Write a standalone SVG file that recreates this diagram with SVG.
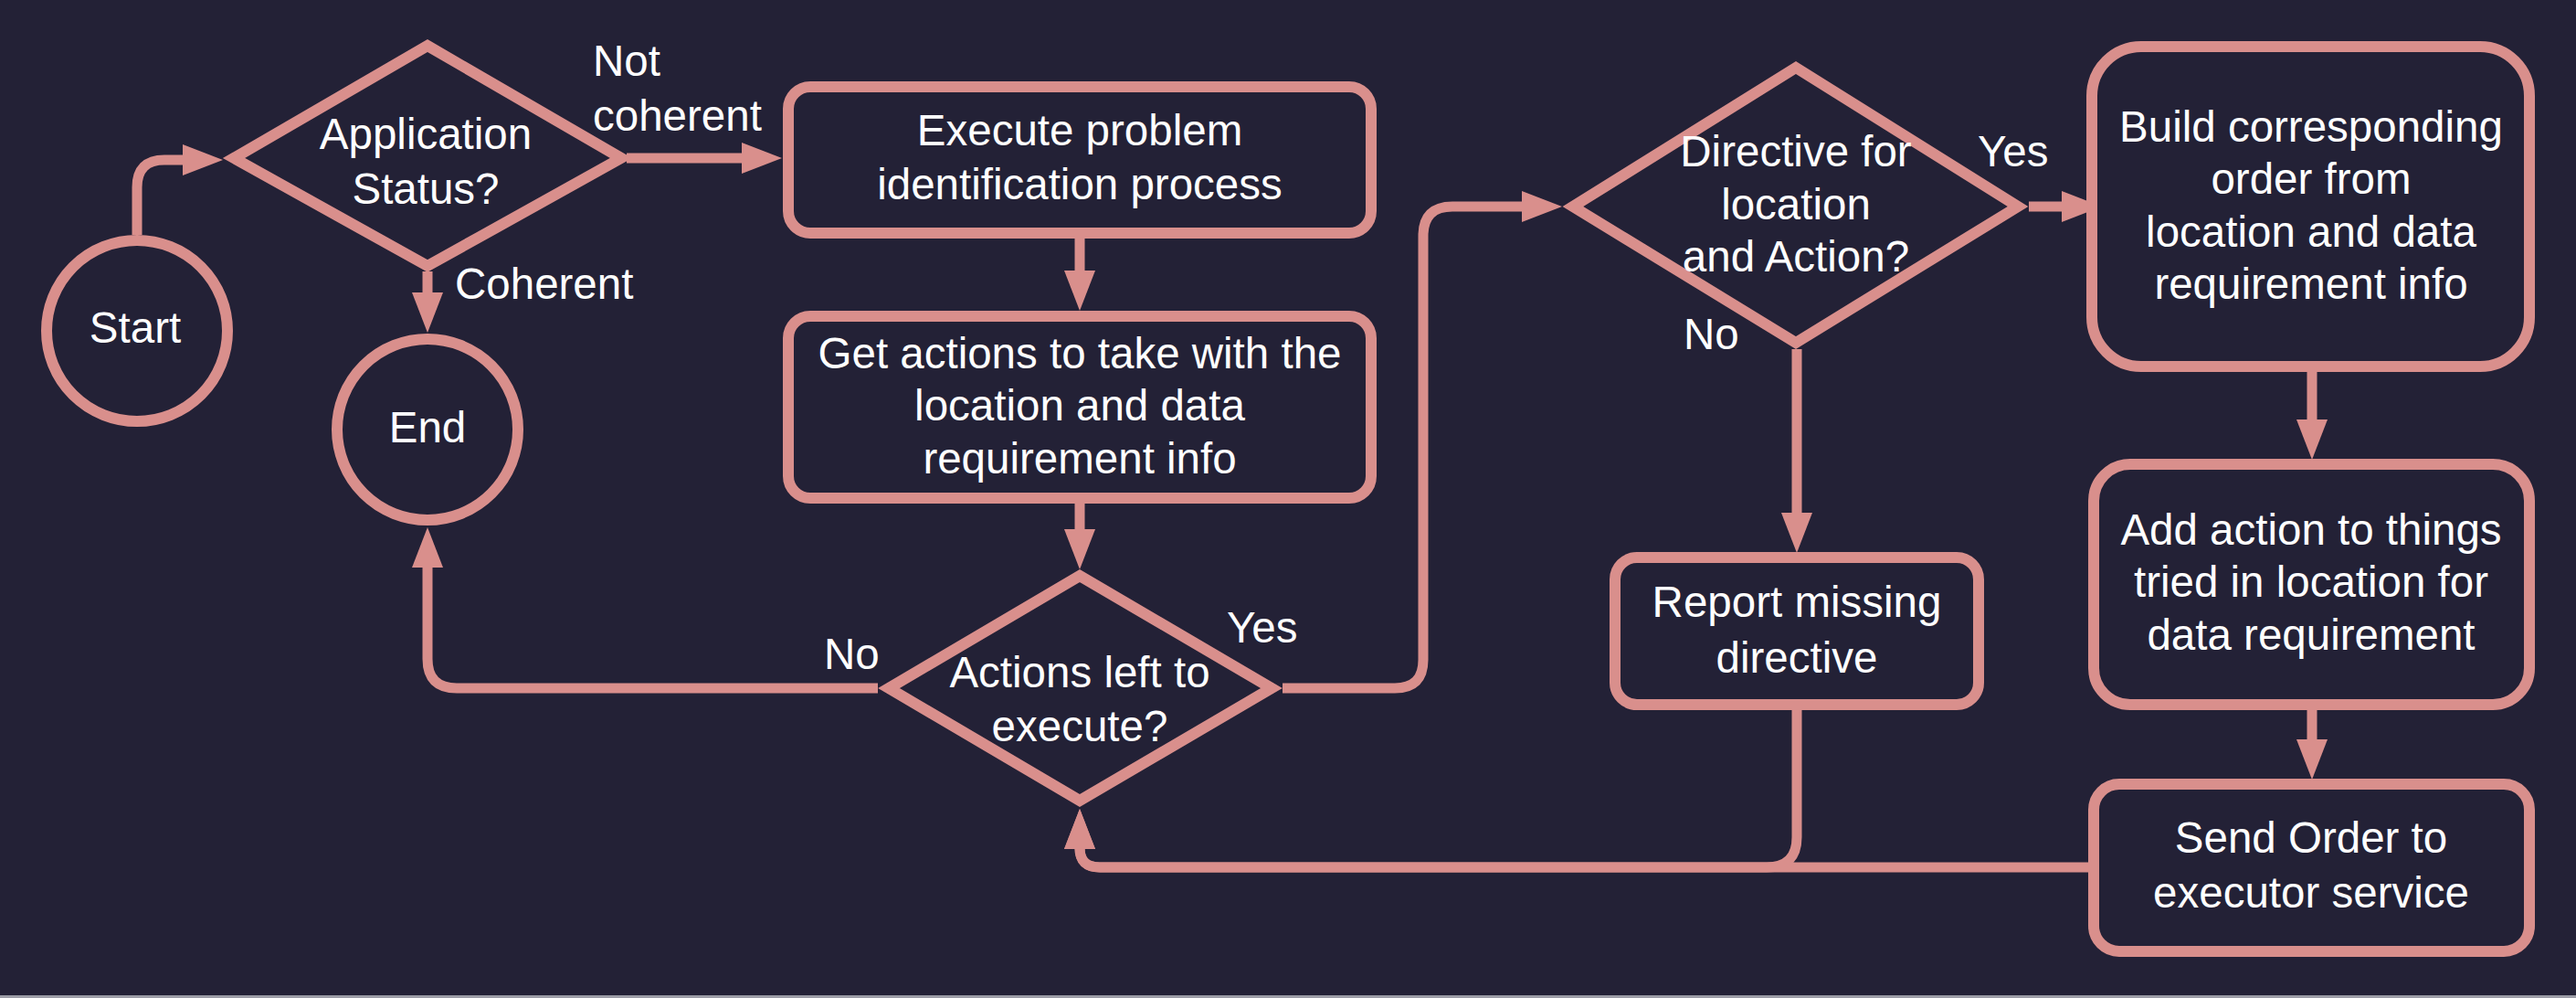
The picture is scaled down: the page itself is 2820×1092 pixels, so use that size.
<svg xmlns="http://www.w3.org/2000/svg" width="2820" height="1092" viewBox="0 0 2820 1092">
<defs>
<marker id="arr" markerUnits="userSpaceOnUse" viewBox="0 0 44 34" refX="1" refY="17" markerWidth="44" markerHeight="34" orient="auto">
<path d="M0,0 L44,17 L0,34 z" fill="#d98f8c"/>
</marker>
<style>
.node{fill:#232136;stroke:#d98f8c;stroke-width:12;stroke-linejoin:miter}
.edge{fill:none;stroke:#d98f8c;stroke-width:11}
text{font-family:"Liberation Sans",Arial,sans-serif;font-size:47.5px;fill:#ffffff}
.c{text-anchor:middle}
</style>
</defs>
<rect x="0" y="0" width="2820" height="1092" fill="#232136"/>
<rect x="0" y="1089" width="2820" height="3" fill="#9c9ca6"/>
<g id="connectors">
<path class="edge" d="M150,257 L150,205 Q150,175 180,175 L201,175" marker-end="url(#arr)"/>
<path class="edge" d="M686,173 L813,173" marker-end="url(#arr)"/>
<path class="edge" d="M468,297 L468,321" marker-end="url(#arr)"/>
<path class="edge" d="M1182,261 L1182,297" marker-end="url(#arr)"/>
<path class="edge" d="M1182,551 L1182,580" marker-end="url(#arr)"/>
<path class="edge" d="M961,753 L500,753 Q468,753 468,721 L468,620" marker-end="url(#arr)"/>
<path class="edge" d="M1404,753 L1527,753 Q1558,753 1558,722 L1558,258 Q1558,226 1590,226 L1667,226" marker-end="url(#arr)"/>
<path class="edge" d="M2221,226 L2258,226" marker-end="url(#arr)"/>
<path class="edge" d="M1967,382 L1967,562" marker-end="url(#arr)"/>
<path class="edge" d="M2531,407 L2531,460" marker-end="url(#arr)"/>
<path class="edge" d="M2531,777 L2531,810" marker-end="url(#arr)"/>
<path class="edge" d="M1967,777 L1967,916 Q1967,949 1934,949 L1204,949 Q1182,949 1182,928" marker-end="url(#arr)"/>
<path class="edge" d="M2286,949 L1204,949 Q1182,949 1182,928" marker-end="url(#arr)"/>
</g>
<g id="start">
<circle class="node" cx="150" cy="362" r="99"/>
<text class="c" x="148" y="375">Start</text>
</g>
<g id="end">
<circle class="node" cx="468" cy="470" r="99"/>
<text class="c" x="468" y="484">End</text>
</g>
<g id="appStatus">
<polygon class="node" points="468,50 680,173 468,291 256,173"/>
<text class="c" x="466" y="163">Application</text>
<text class="c" x="466" y="223">Status?</text>
</g>
<g id="execProblem">
<rect class="node" x="863" y="95" width="638" height="160" rx="24"/>
<text class="c" x="1182" y="159">Execute problem</text>
<text class="c" x="1182" y="218">identification process</text>
</g>
<g id="getActions">
<rect class="node" x="863" y="346" width="638" height="199" rx="24"/>
<text class="c" x="1182" y="403">Get actions to take with the</text>
<text class="c" x="1182" y="460">location and data</text>
<text class="c" x="1182" y="518">requirement info</text>
</g>
<g id="actionsLeft">
<polygon class="node" points="1182,630 1392,753 1182,876 973,753"/>
<text class="c" x="1182" y="752">Actions left to</text>
<text class="c" x="1182" y="811">execute?</text>
</g>
<g id="directive">
<polygon class="node" points="1966,74 2209,226 1966,375 1722,226"/>
<text class="c" x="1966" y="182">Directive for</text>
<text class="c" x="1966" y="240">location</text>
<text class="c" x="1966" y="297">and Action?</text>
</g>
<g id="buildOrder">
<rect class="node" x="2290" y="51" width="479" height="350" rx="54"/>
<text class="c" x="2530" y="155">Build corresponding</text>
<text class="c" x="2530" y="212">order from</text>
<text class="c" x="2530" y="270">location and data</text>
<text class="c" x="2530" y="327">requirement info</text>
</g>
<g id="addAction">
<rect class="node" x="2292" y="508" width="477" height="263" rx="40"/>
<text class="c" x="2530" y="596">Add action to things</text>
<text class="c" x="2530" y="653">tried in location for</text>
<text class="c" x="2530" y="711">data requirement</text>
</g>
<g id="sendOrder">
<rect class="node" x="2292" y="858" width="477" height="183" rx="28"/>
<text class="c" x="2530" y="933">Send Order to</text>
<text class="c" x="2530" y="993">executor service</text>
</g>
<g id="reportMissing">
<rect class="node" x="1768" y="610" width="398" height="161" rx="24"/>
<text class="c" x="1967" y="675">Report missing</text>
<text class="c" x="1967" y="736">directive</text>
</g>
<g id="edgeLabels">
<text x="649" y="83">Not</text>
<text x="649" y="143">coherent</text>
<text x="498" y="327">Coherent</text>
<text x="902" y="732">No</text>
<text x="1343" y="703">Yes</text>
<text x="2165" y="182">Yes</text>
<text x="1843" y="382">No</text>
</g>
</svg>
